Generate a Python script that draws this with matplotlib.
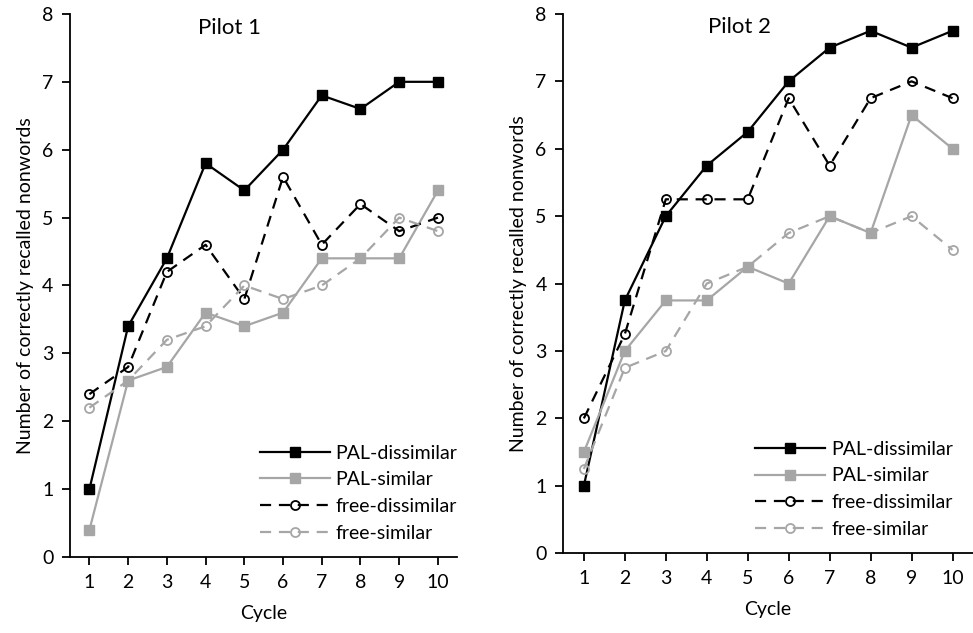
import numpy as np
import matplotlib
matplotlib.use('Agg')
import matplotlib.pyplot as plt

plt.rcParams['font.family'] = ['Lato', 'DejaVu Sans']

# Данные
cycles = list(range(1, 11))
series_names = ['PAL-dissimilar', 'PAL-similar', 'free-dissimilar', 'free-similar']

# Pilot 1
p1_pal_dis = [1.0, 3.4, 4.4, 5.8, 5.4, 6.0, 6.8, 6.6, 7.0, 7.0]
p1_pal_sim = [0.4, 2.6, 2.8, 3.6, 3.4, 3.6, 4.4, 4.4, 4.4, 5.4]
p1_free_dis = [2.4, 2.8, 4.2, 4.6, 3.8, 5.6, 4.6, 5.2, 4.8, 5.0]
p1_free_sim = [2.2, 2.6, 3.2, 3.4, 4.0, 3.8, 4.0, 4.4, 5.0, 4.8]

# Pilot 2
p2_pal_dis = [1.0, 3.75, 5.0, 5.75, 6.25, 7.0, 7.5, 7.75, 7.5, 7.75]
p2_pal_sim = [1.5, 3.0, 3.75, 3.75, 4.25, 4.0, 5.0, 4.75, 6.5, 6.0]
p2_free_dis = [2.0, 3.25, 5.25, 5.25, 5.25, 6.75, 5.75, 6.75, 7.0, 6.75]
p2_free_sim = [1.25, 2.75, 3.0, 4.0, 4.25, 4.75, 5.0, 4.75, 5.0, 4.5]

GRAY = '#a6a6a6'
DASH = (0, (5, 3.5))
styles = [
    dict(color='black', ls='-', marker='s', ms=7.5, mfc='black', mec='black'),
    dict(color=GRAY, ls='-', marker='s', ms=7.5, mfc=GRAY, mec=GRAY),
    dict(color='black', ls=DASH, marker='o', ms=6.5, mfc='none', mec='black', mew=1.3),
    dict(color=GRAY, ls=DASH, marker='o', ms=6.5, mfc='none', mec=GRAY, mew=1.3),
]

FS = 14

fig = plt.figure(figsize=(9.73, 6.33), dpi=100)
ax1 = fig.add_axes([0.072, 0.12, 0.398, 0.858])
ax2 = fig.add_axes([0.579, 0.126, 0.421, 0.852])


def draw(ax, data, title, title_x, leg_x):
    for name, vals, st in zip(series_names, data, styles):
        ax.plot(cycles, vals, lw=1.6, label=name, **st)
    ax.set_xlim(0.5, 10.5)
    ax.set_ylim(0, 8)
    ax.set_xticks(cycles)
    ax.set_yticks(range(0, 9))
    for s in ['top', 'right']:
        ax.spines[s].set_visible(False)
    for s in ['left', 'bottom']:
        ax.spines[s].set_linewidth(1.3)
    ax.tick_params(direction='out', length=6, width=1.3, labelsize=FS, pad=6)
    ax.set_xlabel('Cycle', fontsize=FS, labelpad=10)
    ax.set_ylabel('Number of correctly recalled nonwords', fontsize=FS, labelpad=6)
    ax.text(title_x, 0.975, title, transform=ax.transAxes, ha='center', va='center', fontsize=16)
    ax.legend(loc='lower right', bbox_to_anchor=(leg_x, -0.004), frameon=False,
              fontsize=FS, handlelength=3.6, labelspacing=0.5, handletextpad=0.3)


draw(ax1, [p1_pal_dis, p1_pal_sim, p1_free_dis, p1_free_sim], 'Pilot 1', 0.413, 1.045)
draw(ax2, [p2_pal_dis, p2_pal_sim, p2_free_dis, p2_free_sim], 'Pilot 2', 0.43, 0.994)

fig.savefig('out.png', dpi=100)
